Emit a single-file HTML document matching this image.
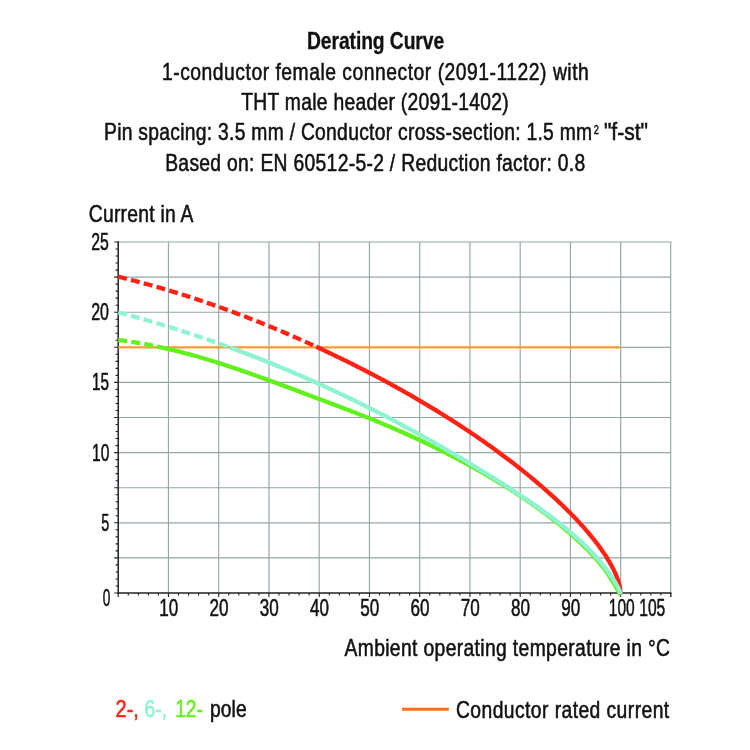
<!DOCTYPE html>
<html><head><meta charset="utf-8"><title>Derating Curve</title>
<style>html,body{margin:0;padding:0;background:#fff}svg{display:block}text{font-family:"Liberation Sans",sans-serif}</style>
</head><body>
<svg width="750" height="750" viewBox="0 0 750 750">
<rect width="750" height="750" fill="#fff"/>
<path d="M168.45,242 V593 M218.70,242 V593 M268.95,242 V593 M319.20,242 V593 M369.45,242 V593 M419.70,242 V593 M469.95,242 V593 M520.20,242 V593 M570.45,242 V593 M620.70,242 V593 M670.70,242 V593 M118.2,557.90 H670.7 M118.2,522.80 H670.7 M118.2,487.70 H670.7 M118.2,452.60 H670.7 M118.2,417.50 H670.7 M118.2,382.40 H670.7 M118.2,347.30 H670.7 M118.2,312.20 H670.7 M118.2,277.10 H670.7 M118.2,242.00 H670.7" stroke="#94a6a6" stroke-width="1.15" fill="none" stroke-linecap="square"/>
<path d="M118.2,241.3 V594 M117.2,593 H671.4" stroke="#222" stroke-width="1.5" fill="none"/>
<path d="M114.20,593.00 H118.2 M115.60,585.98 H118.2 M115.60,578.96 H118.2 M115.60,571.94 H118.2 M115.60,564.92 H118.2 M114.20,557.90 H118.2 M115.60,550.88 H118.2 M115.60,543.86 H118.2 M115.60,536.84 H118.2 M115.60,529.82 H118.2 M114.20,522.80 H118.2 M115.60,515.78 H118.2 M115.60,508.76 H118.2 M115.60,501.74 H118.2 M115.60,494.72 H118.2 M114.20,487.70 H118.2 M115.60,480.68 H118.2 M115.60,473.66 H118.2 M115.60,466.64 H118.2 M115.60,459.62 H118.2 M114.20,452.60 H118.2 M115.60,445.58 H118.2 M115.60,438.56 H118.2 M115.60,431.54 H118.2 M115.60,424.52 H118.2 M114.20,417.50 H118.2 M115.60,410.48 H118.2 M115.60,403.46 H118.2 M115.60,396.44 H118.2 M115.60,389.42 H118.2 M114.20,382.40 H118.2 M115.60,375.38 H118.2 M115.60,368.36 H118.2 M115.60,361.34 H118.2 M115.60,354.32 H118.2 M114.20,347.30 H118.2 M115.60,340.28 H118.2 M115.60,333.26 H118.2 M115.60,326.24 H118.2 M115.60,319.22 H118.2 M114.20,312.20 H118.2 M115.60,305.18 H118.2 M115.60,298.16 H118.2 M115.60,291.14 H118.2 M115.60,284.12 H118.2 M114.20,277.10 H118.2 M115.60,270.08 H118.2 M115.60,263.06 H118.2 M115.60,256.04 H118.2 M115.60,249.02 H118.2 M114.20,242.00 H118.2 M118.20,593 V597.00 M128.25,593 V595.60 M138.30,593 V595.60 M148.35,593 V595.60 M158.40,593 V595.60 M168.45,593 V597.00 M178.50,593 V595.60 M188.55,593 V595.60 M198.60,593 V595.60 M208.65,593 V595.60 M218.70,593 V597.00 M228.75,593 V595.60 M238.80,593 V595.60 M248.85,593 V595.60 M258.90,593 V595.60 M268.95,593 V597.00 M279.00,593 V595.60 M289.05,593 V595.60 M299.10,593 V595.60 M309.15,593 V595.60 M319.20,593 V597.00 M329.25,593 V595.60 M339.30,593 V595.60 M349.35,593 V595.60 M359.40,593 V595.60 M369.45,593 V597.00 M379.50,593 V595.60 M389.55,593 V595.60 M399.60,593 V595.60 M409.65,593 V595.60 M419.70,593 V597.00 M429.75,593 V595.60 M439.80,593 V595.60 M449.85,593 V595.60 M459.90,593 V595.60 M469.95,593 V597.00 M480.00,593 V595.60 M490.05,593 V595.60 M500.10,593 V595.60 M510.15,593 V595.60 M520.20,593 V597.00 M530.25,593 V595.60 M540.30,593 V595.60 M550.35,593 V595.60 M560.40,593 V595.60 M570.45,593 V597.00 M580.50,593 V595.60 M590.55,593 V595.60 M600.60,593 V595.60 M610.65,593 V595.60 M620.70,593 V597.00 M630.75,593 V595.60 M640.80,593 V595.60 M650.85,593 V595.60 M660.90,593 V595.60 M670.95,593 V597.00 M670.7,593 V597" stroke="#222" stroke-width="1.1" fill="none"/>
<path d="M118.2,347.4 H620.70" stroke="#ff9d2e" stroke-width="2.4" fill="none"/>
<clipPath id="c"><rect x="116.8" y="240" width="560" height="356"/></clipPath><g clip-path="url(#c)">
<path d="M118.20,340.05 L119.88,340.26 L121.56,340.47 L123.25,340.69 L124.93,340.92 L126.61,341.15 L128.29,341.39 L129.98,341.64 L131.66,341.90 L133.34,342.16 L135.02,342.42 L136.71,342.70 L138.39,342.98 L140.07,343.26 L141.75,343.56 L143.43,343.86 L145.12,344.16 L146.80,344.47 L148.48,344.79 L150.16,345.12 L151.85,345.45 L153.53,345.78 L155.21,346.13 L156.89,346.47" stroke="#62f01e" stroke-width="4.3" fill="none" stroke-dasharray="9 4.2"/>
<path d="M156.89,346.47 L158.57,346.83 L160.25,347.19 L161.93,347.55 L163.61,347.93 L165.29,348.30 L166.98,348.69 L168.66,349.08 L170.34,349.47 L172.02,349.87 L173.70,350.28 L175.38,350.69 L177.06,351.10 L178.74,351.53 L180.42,351.95 L182.10,352.38 L183.78,352.82 L185.46,353.27 L187.14,353.71 L188.82,354.17 L190.50,354.62 L192.18,355.09 L193.86,355.55 L195.54,356.03 L197.22,356.50 L198.90,356.99 L200.58,357.47 L202.26,357.96 L203.95,358.46 L205.63,358.96 L207.31,359.46 L208.99,359.97 L210.67,360.49 L212.35,361.00 L214.03,361.53 L215.71,362.05 L217.39,362.58 L219.07,363.11 L220.75,363.65 L222.43,364.19 L224.11,364.74 L225.79,365.28 L227.47,365.84 L229.15,366.39 L230.83,366.95 L232.51,367.51 L234.19,368.08 L235.87,368.65 L237.55,369.22 L239.24,369.79 L240.92,370.37 L242.60,370.95 L244.28,371.53 L245.96,372.12 L247.64,372.71 L249.32,373.30 L251.00,373.89 L252.68,374.48 L254.36,375.08 L256.04,375.68 L257.72,376.28 L259.40,376.89 L261.08,377.49 L262.76,378.10 L264.44,378.71 L266.12,379.32 L267.80,379.93 L269.48,380.54 L271.16,381.16 L272.84,381.77 L274.52,382.39 L276.21,383.01 L277.89,383.62 L279.57,384.24 L281.25,384.86 L282.93,385.49 L284.61,386.11 L286.29,386.73 L287.97,387.36 L289.65,387.98 L291.33,388.61 L293.01,389.23 L294.69,389.86 L296.37,390.49 L298.05,391.11 L299.73,391.74 L301.41,392.37 L303.09,393.00 L304.77,393.63 L306.45,394.26 L308.13,394.89 L309.81,395.52 L311.50,396.15 L313.18,396.79 L314.86,397.42 L316.54,398.05 L318.22,398.68 L319.90,399.31 L321.58,399.94 L323.26,400.57 L324.94,401.20 L326.62,401.84 L328.30,402.47 L329.98,403.10 L331.66,403.73 L333.34,404.37 L335.02,405.00 L336.70,405.63 L338.38,406.27 L340.06,406.91 L341.74,407.54 L343.42,408.18 L345.10,408.82 L346.78,409.47 L348.47,410.11 L350.15,410.75 L351.83,411.40 L353.51,412.05 L355.19,412.70 L356.87,413.35 L358.55,414.01 L360.23,414.67 L361.91,415.33 L363.59,415.99 L365.27,416.66 L366.95,417.32 L368.63,418.00 L370.31,418.67 L371.99,419.35 L373.67,420.03 L375.35,420.72 L377.03,421.41 L378.71,422.10 L380.39,422.80 L382.07,423.50 L383.75,424.20 L385.44,424.91 L387.12,425.62 L388.80,426.33 L390.48,427.05 L392.16,427.77 L393.84,428.50 L395.52,429.22 L397.20,429.96 L398.88,430.69 L400.56,431.43 L402.24,432.18 L403.92,432.92 L405.60,433.67 L407.28,434.43 L408.96,435.19 L410.64,435.95 L412.32,436.72 L414.00,437.49 L415.68,438.26 L417.36,439.04 L419.04,439.82 L420.73,440.61 L422.41,441.40 L424.09,442.20 L425.77,443.00 L427.45,443.80 L429.13,444.61 L430.81,445.42 L432.49,446.24 L434.17,447.06 L435.85,447.88 L437.53,448.71 L439.21,449.54 L440.89,450.38 L442.57,451.22 L444.25,452.07 L445.93,452.92 L447.61,453.78 L449.29,454.64 L450.97,455.50 L452.65,456.37 L454.33,457.25 L456.01,458.13 L457.70,459.01 L459.38,459.90 L461.06,460.80 L462.74,461.70 L464.42,462.60 L466.10,463.51 L467.78,464.43 L469.46,465.35 L471.14,466.27 L472.82,467.20 L474.50,468.14 L476.18,469.08 L477.86,470.03 L479.54,470.98 L481.22,471.94 L482.90,472.90 L484.58,473.87 L486.26,474.84 L487.94,475.82 L489.62,476.81 L491.30,477.80 L492.98,478.80 L494.67,479.81 L496.35,480.82 L498.03,481.84 L499.71,482.86 L501.39,483.89 L503.07,484.93 L504.75,485.97 L506.43,487.03 L508.11,488.08 L509.79,489.15 L511.47,490.22 L513.15,491.30 L514.83,492.39 L516.51,493.48 L518.19,494.59 L519.87,495.70 L521.55,496.81 L523.23,497.94 L524.91,499.07 L526.59,500.22 L528.27,501.37 L529.96,502.53 L531.64,503.70 L533.32,504.88 L535.00,506.06 L536.68,507.26 L538.36,508.47 L540.04,509.68 L541.72,510.91 L543.40,512.15 L545.08,513.40 L546.76,514.65 L548.44,515.92 L550.12,517.21 L551.80,518.50 L553.48,519.81 L555.16,521.12 L556.84,522.45 L558.52,523.80 L560.20,525.16 L561.88,526.53 L563.56,527.92 L565.24,529.32 L566.93,530.74 L568.61,532.17 L570.29,533.62 L571.97,535.09 L573.65,536.58 L575.33,538.09 L577.01,539.62 L578.69,541.16 L580.37,542.74 L582.05,544.33 L583.73,545.95 L585.41,547.59 L587.09,549.27 L588.77,550.97 L590.45,552.71 L592.13,554.48 L593.81,556.29 L595.49,558.14 L597.17,560.04 L598.85,562.00 L600.53,564.02 L602.21,566.11 L603.90,568.29 L605.58,570.56 L605.62,570.63 L606.25,571.50 L606.88,572.39 L607.51,573.30 L608.14,574.22 L608.77,575.15 L609.39,576.10 L610.02,577.07 L610.65,578.05 L611.28,579.04 L611.91,580.05 L612.53,581.08 L613.16,582.12 L613.79,583.18 L614.42,584.25 L615.05,585.34 L615.68,586.44 L616.30,587.55 L616.93,588.67 L617.56,589.80 L618.19,590.94 L618.82,592.06 L619.44,593.16 L620.07,594.15 L620.70,594.30" stroke="#62f01e" stroke-width="4.3" fill="none" stroke-linejoin="round"/>
<path d="M118.20,276.69 L119.88,277.10 L121.56,277.51 L123.23,277.93 L124.91,278.35 L126.59,278.77 L128.27,279.20 L129.94,279.63 L131.62,280.06 L133.30,280.49 L134.98,280.93 L136.66,281.37 L138.33,281.82 L140.01,282.27 L141.69,282.72 L143.37,283.17 L145.05,283.63 L146.72,284.09 L148.40,284.55 L150.08,285.02 L151.76,285.49 L153.43,285.96 L155.11,286.44 L156.79,286.92 L158.47,287.40 L160.15,287.89 L161.82,288.38 L163.50,288.87 L165.18,289.36 L166.86,289.86 L168.54,290.36 L170.21,290.87 L171.89,291.38 L173.57,291.89 L175.25,292.40 L176.92,292.92 L178.60,293.44 L180.28,293.96 L181.96,294.49 L183.64,295.02 L185.31,295.55 L186.99,296.09 L188.67,296.63 L190.35,297.17 L192.02,297.72 L193.70,298.26 L195.38,298.82 L197.06,299.37 L198.74,299.93 L200.41,300.49 L202.09,301.06 L203.77,301.62 L205.45,302.19 L207.13,302.77 L208.80,303.35 L210.48,303.93 L212.16,304.51 L213.84,305.10 L215.51,305.69 L217.19,306.28 L218.87,306.87 L220.55,307.47 L222.23,308.08 L223.90,308.68 L225.58,309.29 L227.26,309.90 L228.94,310.52 L230.62,311.13 L232.29,311.76 L233.97,312.38 L235.65,313.01 L237.33,313.64 L239.00,314.27 L240.68,314.91 L242.36,315.55 L244.04,316.19 L245.72,316.84 L247.39,317.49 L249.07,318.14 L250.75,318.79 L252.43,319.45 L254.10,320.11 L255.78,320.78 L257.46,321.45 L259.14,322.12 L260.82,322.79 L262.49,323.47 L264.17,324.15 L265.85,324.83 L267.53,325.52 L269.21,326.21 L270.88,326.90 L272.56,327.59 L274.24,328.29 L275.92,328.99 L277.59,329.70 L279.27,330.40 L280.95,331.11 L282.63,331.83 L284.31,332.55 L285.98,333.26 L287.66,333.99 L289.34,334.71 L291.02,335.44 L292.70,336.17 L294.37,336.91 L296.05,337.65 L297.73,338.39 L299.41,339.13 L301.08,339.88 L302.76,340.63 L304.44,341.38 L306.12,342.13 L307.80,342.89 L309.47,343.65 L311.15,344.42 L312.83,345.18 L314.51,345.95 L316.19,346.73" stroke="#ff2316" stroke-width="4.3" fill="none" stroke-dasharray="9 4.2"/>
<path d="M316.19,346.73 L317.87,347.51 L319.55,348.29 L321.23,349.07 L322.91,349.86 L324.60,350.65 L326.28,351.44 L327.96,352.23 L329.64,353.03 L331.33,353.83 L333.01,354.64 L334.69,355.45 L336.37,356.26 L338.06,357.07 L339.74,357.89 L341.42,358.71 L343.10,359.53 L344.79,360.36 L346.47,361.19 L348.15,362.02 L349.83,362.85 L351.52,363.69 L353.20,364.53 L354.88,365.38 L356.56,366.23 L358.25,367.08 L359.93,367.93 L361.61,368.79 L363.29,369.65 L364.97,370.52 L366.66,371.38 L368.34,372.26 L370.02,373.13 L371.70,374.01 L373.39,374.89 L375.07,375.78 L376.75,376.66 L378.43,377.56 L380.12,378.45 L381.80,379.35 L383.48,380.25 L385.16,381.16 L386.85,382.07 L388.53,382.98 L390.21,383.90 L391.89,384.82 L393.58,385.74 L395.26,386.67 L396.94,387.60 L398.62,388.54 L400.31,389.48 L401.99,390.42 L403.67,391.37 L405.35,392.32 L407.03,393.28 L408.72,394.23 L410.40,395.20 L412.08,396.16 L413.76,397.14 L415.45,398.11 L417.13,399.09 L418.81,400.07 L420.49,401.06 L422.18,402.05 L423.86,403.05 L425.54,404.05 L427.22,405.05 L428.91,406.06 L430.59,407.07 L432.27,408.09 L433.95,409.11 L435.64,410.14 L437.32,411.17 L439.00,412.20 L440.68,413.24 L442.37,414.29 L444.05,415.33 L445.73,416.39 L447.41,417.45 L449.09,418.51 L450.78,419.58 L452.46,420.65 L454.14,421.73 L455.82,422.81 L457.51,423.90 L459.19,424.99 L460.87,426.09 L462.55,427.20 L464.24,428.30 L465.92,429.42 L467.60,430.54 L469.28,431.66 L470.97,432.79 L472.65,433.93 L474.33,435.07 L476.01,436.22 L477.70,437.37 L479.38,438.53 L481.06,439.69 L482.74,440.86 L484.43,442.04 L486.11,443.22 L487.79,444.41 L489.47,445.61 L491.15,446.81 L492.84,448.02 L494.52,449.23 L496.20,450.45 L497.88,451.68 L499.57,452.92 L501.25,454.16 L502.93,455.41 L504.61,456.66 L506.30,457.93 L507.98,459.20 L509.66,460.47 L511.34,461.76 L513.03,463.05 L514.71,464.35 L516.39,465.66 L518.07,466.98 L519.76,468.31 L521.44,469.64 L523.12,470.98 L524.80,472.33 L526.49,473.70 L528.17,475.06 L529.85,476.44 L531.53,477.83 L533.22,479.23 L534.90,480.64 L536.58,482.06 L538.26,483.49 L539.94,484.93 L541.63,486.38 L543.31,487.84 L544.99,489.31 L546.67,490.80 L548.36,492.29 L550.04,493.80 L551.72,495.33 L553.40,496.86 L555.09,498.41 L556.77,499.98 L558.45,501.56 L560.13,503.15 L561.82,504.76 L563.50,506.38 L565.18,508.03 L566.86,509.69 L568.55,511.36 L570.23,513.06 L571.91,514.78 L573.59,516.51 L575.28,518.27 L576.96,520.05 L578.64,521.86 L580.32,523.69 L582.00,525.54 L583.69,527.43 L585.37,529.34 L587.05,531.29 L588.73,533.26 L590.42,535.28 L592.10,537.33 L593.78,539.43 L595.46,541.57 L597.15,543.76 L598.83,546.00 L600.51,548.31 L602.19,550.68 L603.88,553.13 L605.56,555.67 L605.62,555.77 L606.25,556.75 L606.88,557.74 L607.51,558.75 L608.14,559.77 L608.77,560.81 L609.39,561.87 L610.02,562.96 L610.65,564.06 L611.28,565.19 L611.91,566.36 L612.53,567.55 L613.16,568.77 L613.79,570.04 L614.42,571.35 L615.05,572.71 L615.68,574.13 L616.30,575.62 L616.93,577.20 L617.56,578.88 L618.19,580.71 L618.82,582.74 L619.44,585.08 L620.07,588.03 L620.70,594.62" stroke="#ff2316" stroke-width="4.3" fill="none" stroke-linejoin="round"/>
<path d="M118.20,312.36 L119.89,312.80 L121.58,313.25 L123.27,313.71 L124.96,314.16 L126.65,314.62 L128.34,315.08 L130.03,315.54 L131.72,316.00 L133.41,316.47 L135.10,316.94 L136.79,317.41 L138.48,317.88 L140.17,318.36 L141.86,318.84 L143.55,319.32 L145.24,319.81 L146.93,320.30 L148.62,320.79 L150.31,321.28 L152.00,321.78 L153.69,322.27 L155.38,322.77 L157.08,323.28 L158.77,323.78 L160.46,324.29 L162.15,324.80 L163.84,325.31 L165.53,325.83 L167.22,326.35 L168.91,326.87 L170.60,327.40 L172.29,327.92 L173.98,328.45 L175.67,328.98 L177.36,329.52 L179.05,330.05 L180.74,330.59 L182.43,331.14 L184.12,331.68 L185.81,332.23 L187.50,332.78 L189.19,333.33 L190.88,333.89 L192.57,334.45 L194.26,335.01 L195.95,335.57 L197.64,336.14 L199.33,336.71 L201.02,337.28 L202.71,337.85 L204.40,338.43 L206.09,339.01 L207.78,339.59 L209.47,340.18 L211.16,340.76 L212.85,341.35 L214.54,341.95 L216.23,342.54 L217.92,343.14 L219.61,343.74 L221.30,344.35 L222.99,344.95 L224.68,345.56 L226.37,346.17 L228.06,346.79 L229.75,347.40" stroke="#8ff3d1" stroke-width="4.3" fill="none" stroke-dasharray="9 4.2"/>
<path d="M229.75,347.40 L231.43,348.02 L233.11,348.64 L234.79,349.26 L236.47,349.88 L238.14,350.51 L239.82,351.14 L241.50,351.77 L243.18,352.40 L244.86,353.04 L246.53,353.68 L248.21,354.32 L249.89,354.97 L251.57,355.62 L253.25,356.27 L254.92,356.92 L256.60,357.58 L258.28,358.23 L259.96,358.90 L261.63,359.56 L263.31,360.23 L264.99,360.90 L266.67,361.57 L268.35,362.24 L270.02,362.92 L271.70,363.60 L273.38,364.28 L275.06,364.97 L276.74,365.66 L278.41,366.35 L280.09,367.05 L281.77,367.74 L283.45,368.44 L285.12,369.14 L286.80,369.85 L288.48,370.56 L290.16,371.27 L291.84,371.98 L293.51,372.70 L295.19,373.42 L296.87,374.14 L298.55,374.86 L300.23,375.59 L301.90,376.32 L303.58,377.05 L305.26,377.79 L306.94,378.53 L308.62,379.27 L310.29,380.01 L311.97,380.76 L313.65,381.51 L315.33,382.26 L317.00,383.02 L318.68,383.77 L320.36,384.54 L322.04,385.30 L323.72,386.07 L325.39,386.83 L327.07,387.61 L328.75,388.38 L330.43,389.16 L332.11,389.94 L333.78,390.72 L335.46,391.51 L337.14,392.30 L338.82,393.09 L340.49,393.88 L342.17,394.68 L343.85,395.48 L345.53,396.28 L347.21,397.09 L348.88,397.90 L350.56,398.71 L352.24,399.52 L353.92,400.34 L355.60,401.16 L357.27,401.98 L358.95,402.81 L360.63,403.64 L362.31,404.47 L363.99,405.30 L365.66,406.14 L367.34,406.98 L369.02,407.82 L370.70,408.67 L372.37,409.51 L374.05,410.37 L375.73,411.22 L377.41,412.08 L379.09,412.93 L380.76,413.80 L382.44,414.66 L384.12,415.53 L385.80,416.40 L387.48,417.27 L389.15,418.15 L390.83,419.03 L392.51,419.91 L394.19,420.80 L395.86,421.68 L397.54,422.57 L399.22,423.47 L400.90,424.36 L402.58,425.26 L404.25,426.16 L405.93,427.07 L407.61,427.98 L409.29,428.89 L410.97,429.80 L412.64,430.71 L414.32,431.63 L416.00,432.55 L417.68,433.48 L419.35,434.40 L421.03,435.33 L422.71,436.27 L424.39,437.20 L426.07,438.14 L427.74,439.08 L429.42,440.02 L431.10,440.97 L432.78,441.92 L434.46,442.87 L436.13,443.82 L437.81,444.78 L439.49,445.74 L441.17,446.70 L442.85,447.66 L444.52,448.63 L446.20,449.60 L447.88,450.58 L449.56,451.55 L451.23,452.53 L452.91,453.51 L454.59,454.49 L456.27,455.48 L457.95,456.47 L459.62,457.46 L461.30,458.45 L462.98,459.45 L464.66,460.44 L466.34,461.45 L468.01,462.45 L469.69,463.45 L471.37,464.46 L473.05,465.47 L474.72,466.49 L476.40,467.50 L478.08,468.52 L479.76,469.54 L481.44,470.57 L483.11,471.59 L484.79,472.62 L486.47,473.65 L488.15,474.69 L489.83,475.73 L491.50,476.77 L493.18,477.82 L494.86,478.87 L496.54,479.92 L498.22,480.98 L499.89,482.04 L501.57,483.10 L503.25,484.17 L504.93,485.24 L506.60,486.31 L508.28,487.39 L509.96,488.48 L511.64,489.57 L513.32,490.66 L514.99,491.76 L516.67,492.86 L518.35,493.97 L520.03,495.09 L521.71,496.21 L523.38,497.33 L525.06,498.46 L526.74,499.60 L528.42,500.74 L530.09,501.89 L531.77,503.05 L533.45,504.21 L535.13,505.38 L536.81,506.56 L538.48,507.74 L540.16,508.93 L541.84,510.14 L543.52,511.35 L545.20,512.56 L546.87,513.79 L548.55,515.03 L550.23,516.27 L551.91,517.53 L553.58,518.80 L555.26,520.08 L556.94,521.37 L558.62,522.67 L560.30,523.99 L561.97,525.32 L563.65,526.66 L565.33,528.02 L567.01,529.39 L568.69,530.78 L570.36,532.19 L572.04,533.61 L573.72,535.06 L575.40,536.52 L577.08,538.01 L578.75,539.52 L580.43,541.06 L582.11,542.62 L583.79,544.21 L585.46,545.83 L587.14,547.48 L588.82,549.17 L590.50,550.89 L592.18,552.66 L593.85,554.46 L595.53,556.31 L597.21,558.21 L598.89,560.15 L600.57,562.14 L602.24,564.19 L603.92,566.30 L605.60,568.46 L605.62,568.50 L606.25,569.33 L606.88,570.17 L607.51,571.02 L608.14,571.88 L608.77,572.75 L609.39,573.63 L610.02,574.52 L610.65,575.43 L611.28,576.35 L611.91,577.29 L612.53,578.24 L613.16,579.21 L613.79,580.20 L614.42,581.20 L615.05,582.23 L615.68,583.28 L616.30,584.36 L616.93,585.47 L617.56,586.63 L618.19,587.83 L618.82,589.09 L619.44,590.45 L620.07,591.98 L620.70,594.44" stroke="#8ff3d1" stroke-width="4.3" fill="none" stroke-linejoin="round"/>
</g>
<filter id="gs" x="0" y="0" width="750" height="750" filterUnits="userSpaceOnUse" color-interpolation-filters="sRGB"><feColorMatrix type="saturate" values="0"/></filter><g filter="url(#gs)">
<text transform="translate(307,49.3) scale(0.84,1)" font-size="23" font-weight="bold" textLength="163.3" lengthAdjust="spacing" fill="#111" stroke="#111" stroke-width="0.3" stroke-linejoin="round">Derating Curve</text>
<text transform="translate(162,79.6) scale(0.84,1)" font-size="23" font-weight="normal" textLength="508.1" lengthAdjust="spacing" fill="#111" stroke="#111" stroke-width="0.55" stroke-linejoin="round">1-conductor female connector (2091-1122) with</text>
<text transform="translate(241.2,110) scale(0.84,1)" font-size="23" font-weight="normal" textLength="318.6" lengthAdjust="spacing" fill="#111" stroke="#111" stroke-width="0.55" stroke-linejoin="round">THT male header (2091-1402)</text>
<text transform="translate(104,140.3) scale(0.84,1)" font-size="23" font-weight="normal" textLength="581.2" lengthAdjust="spacing" fill="#111" stroke="#111" stroke-width="0.55" stroke-linejoin="round">Pin spacing: 3.5 mm / Conductor cross-section: 1.5 mm</text>
<text x="593.8" y="134.2" font-size="13.5" font-weight="normal" textLength="5.2" lengthAdjust="spacingAndGlyphs" fill="#111" stroke="#111" stroke-width="0.55" stroke-linejoin="round">2</text>
<text x="603.9" y="140.3" font-size="23" font-weight="normal" textLength="44.1" lengthAdjust="spacingAndGlyphs" fill="#111" stroke="#111" stroke-width="0.55" stroke-linejoin="round">&quot;f-st&quot;</text>
<text transform="translate(165.2,170.5) scale(0.84,1)" font-size="23" font-weight="normal" textLength="500.0" lengthAdjust="spacing" fill="#111" stroke="#111" stroke-width="0.55" stroke-linejoin="round">Based on: EN 60512-5-2 / Reduction factor: 0.8</text>
<text transform="translate(88.8,222) scale(0.84,1)" font-size="23" font-weight="normal" textLength="124.4" lengthAdjust="spacing" fill="#111" stroke="#111" stroke-width="0.55" stroke-linejoin="round">Current in A</text>
<text x="91.2" y="249.9" font-size="23" font-weight="normal" textLength="17.6" lengthAdjust="spacingAndGlyphs" fill="#111" stroke="#111" stroke-width="0.55" stroke-linejoin="round">25</text>
<text x="91.2" y="320.1" font-size="23" font-weight="normal" textLength="17.8" lengthAdjust="spacingAndGlyphs" fill="#111" stroke="#111" stroke-width="0.55" stroke-linejoin="round">20</text>
<text x="92" y="390.29999999999995" font-size="23" font-weight="normal" textLength="17.0" lengthAdjust="spacingAndGlyphs" fill="#111" stroke="#111" stroke-width="0.55" stroke-linejoin="round">15</text>
<text x="92" y="460.5" font-size="23" font-weight="normal" textLength="17.3" lengthAdjust="spacingAndGlyphs" fill="#111" stroke="#111" stroke-width="0.55" stroke-linejoin="round">10</text>
<text x="101.3" y="530.6999999999999" font-size="23" font-weight="normal" textLength="8.0" lengthAdjust="spacingAndGlyphs" fill="#111" stroke="#111" stroke-width="0.55" stroke-linejoin="round">5</text>
<text x="102.7" y="605.8" font-size="23" font-weight="normal" textLength="7.6" lengthAdjust="spacingAndGlyphs" fill="#111" stroke="#111" stroke-width="0.55" stroke-linejoin="round">0</text>
<text x="159.15" y="616" font-size="23" font-weight="normal" textLength="19.0" lengthAdjust="spacingAndGlyphs" fill="#111" stroke="#111" stroke-width="0.55" stroke-linejoin="round">10</text>
<text x="209.4" y="616" font-size="23" font-weight="normal" textLength="19.0" lengthAdjust="spacingAndGlyphs" fill="#111" stroke="#111" stroke-width="0.55" stroke-linejoin="round">20</text>
<text x="259.65" y="616" font-size="23" font-weight="normal" textLength="19.0" lengthAdjust="spacingAndGlyphs" fill="#111" stroke="#111" stroke-width="0.55" stroke-linejoin="round">30</text>
<text x="309.9" y="616" font-size="23" font-weight="normal" textLength="19.0" lengthAdjust="spacingAndGlyphs" fill="#111" stroke="#111" stroke-width="0.55" stroke-linejoin="round">40</text>
<text x="360.15000000000003" y="616" font-size="23" font-weight="normal" textLength="19.0" lengthAdjust="spacingAndGlyphs" fill="#111" stroke="#111" stroke-width="0.55" stroke-linejoin="round">50</text>
<text x="410.4" y="616" font-size="23" font-weight="normal" textLength="19.0" lengthAdjust="spacingAndGlyphs" fill="#111" stroke="#111" stroke-width="0.55" stroke-linejoin="round">60</text>
<text x="460.65" y="616" font-size="23" font-weight="normal" textLength="19.0" lengthAdjust="spacingAndGlyphs" fill="#111" stroke="#111" stroke-width="0.55" stroke-linejoin="round">70</text>
<text x="510.9" y="616" font-size="23" font-weight="normal" textLength="19.0" lengthAdjust="spacingAndGlyphs" fill="#111" stroke="#111" stroke-width="0.55" stroke-linejoin="round">80</text>
<text x="561.15" y="616" font-size="23" font-weight="normal" textLength="19.0" lengthAdjust="spacingAndGlyphs" fill="#111" stroke="#111" stroke-width="0.55" stroke-linejoin="round">90</text>
<text x="608.8" y="616" font-size="23" font-weight="normal" textLength="25.9" lengthAdjust="spacingAndGlyphs" fill="#111" stroke="#111" stroke-width="0.55" stroke-linejoin="round">100</text>
<text x="639.2" y="616" font-size="23" font-weight="normal" textLength="26.1" lengthAdjust="spacingAndGlyphs" fill="#111" stroke="#111" stroke-width="0.55" stroke-linejoin="round">105</text>
<text transform="translate(344.5,656.1) scale(0.84,1)" font-size="23" font-weight="normal" textLength="387.5" lengthAdjust="spacing" fill="#111" stroke="#111" stroke-width="0.55" stroke-linejoin="round">Ambient operating temperature in °C</text>
<text transform="translate(209.9,716.8) scale(0.84,1)" font-size="23" font-weight="normal" textLength="43.8" lengthAdjust="spacing" fill="#111" stroke="#111" stroke-width="0.55" stroke-linejoin="round">pole</text>
<text transform="translate(456,717.5) scale(0.84,1)" font-size="23" font-weight="normal" textLength="253.8" lengthAdjust="spacing" fill="#111" stroke="#111" stroke-width="0.55" stroke-linejoin="round">Conductor rated current</text>
</g>
<g opacity="0.995">
<text x="115.6" y="716.8" font-size="23" font-weight="normal" textLength="23.3" lengthAdjust="spacingAndGlyphs" fill="#ff2316" stroke="#ff2316" stroke-width="0.55" stroke-linejoin="round">2-,</text>
<text x="144.4" y="716.8" font-size="23" font-weight="normal" textLength="22.6" lengthAdjust="spacingAndGlyphs" fill="#8ff3d1" stroke="#8ff3d1" stroke-width="0.55" stroke-linejoin="round">6-,</text>
<text x="175.2" y="716.8" font-size="23" font-weight="normal" textLength="27.7" lengthAdjust="spacingAndGlyphs" fill="#62f01e" stroke="#62f01e" stroke-width="0.55" stroke-linejoin="round">12-</text>
</g>
<path d="M402,709.3 H448.8" stroke="#ff6f12" stroke-width="3" fill="none"/>
</svg></body></html>
